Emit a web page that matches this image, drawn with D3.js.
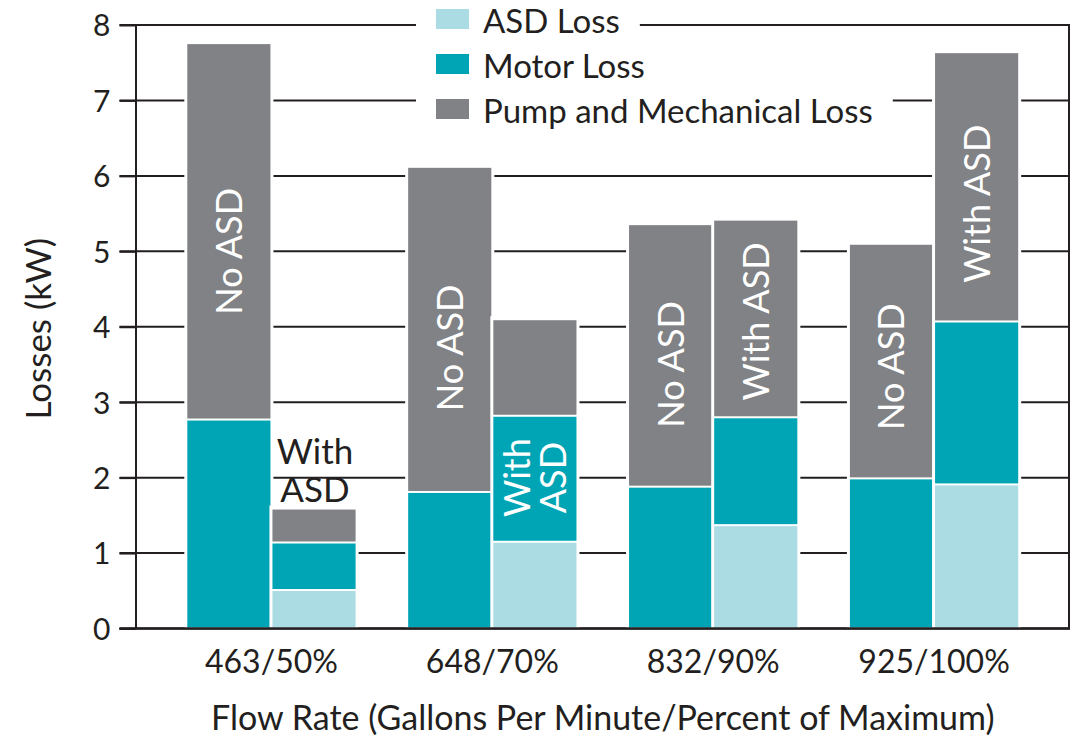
<!DOCTYPE html>
<html>
<head>
<meta charset="utf-8">
<script src="https://cdn.jsdelivr.net/npm/d3@7"></script>
<style>
  html, body { margin: 0; padding: 0; background: #fff; }
  svg { display: block; font-family: Lato, "DejaVu Sans", sans-serif; }
</style>
</head>
<body>
<div id="main-container"></div>
<script>
// Data
const GROUPS = ['463/50%', '648/70%', '832/90%', '925/100%'];
const CONFIGS = ['No ASD', 'With ASD'];
const SERIES = ['ASD Loss', 'Motor Loss', 'Pump and Mechanical Loss'];
const Y_TICKS = [0, 1, 2, 3, 4, 5, 6, 7, 8];

// segment sizes (kW), one entry per flow rate
const NO_ASD_ASD = [0, 0, 0, 0];
const NO_ASD_MOTOR = [2.77, 1.81, 1.88, 1.99];
const NO_ASD_PUMP = [4.99, 4.31, 3.48, 3.11];
const WITH_ASD_ASD = [0.51, 1.15, 1.37, 1.91];
const WITH_ASD_MOTOR = [0.63, 1.67, 1.43, 2.16];
const WITH_ASD_PUMP = [0.45, 1.28, 2.62, 3.57];

// where the bar labels sit (kW)
const NO_ASD_LABEL_AT = [5.0, 3.72, 3.5, 3.47];
const WITH_ASD_LABEL_AT = [1.95, 2.0, 4.07, 5.63];

const COLORS = ['#abdbe3', '#00a5b5', '#808285'];
const INK = '#231f20';

const WIDTH = 1071;
const HEIGHT = 737;
const MARGIN = { top: 25, right: 1, bottom: 108.5, left: 135.5 };

const SVG = d3.select('#main-container').append('svg')
    .attr('width', WIDTH)
    .attr('height', HEIGHT);

const x = d3.scaleBand()
    .domain(GROUPS)
    .range([MARGIN.left, WIDTH - MARGIN.right])
    .paddingInner(0.229)
    .paddingOuter(0.23);

const xInner = d3.scaleBand()
    .domain(CONFIGS)
    .range([0, x.bandwidth()]);

const y = d3.scaleLinear()
    .domain([0, 8])
    .range([HEIGHT - MARGIN.bottom, MARGIN.top]);

// build bars
const bars = [];
GROUPS.forEach((g, i) => {
    const sets = [
        [NO_ASD_ASD[i], NO_ASD_MOTOR[i], NO_ASD_PUMP[i]],
        [WITH_ASD_ASD[i], WITH_ASD_MOTOR[i], WITH_ASD_PUMP[i]]
    ];
    CONFIGS.forEach((c, j) => {
        let acc = 0;
        const segs = sets[j].map((v, k) => {
            const s = { series: SERIES[k], k, y0: acc, y1: acc + v };
            acc += v;
            return s;
        }).filter(s => s.y1 > s.y0);
        bars.push({ group: g, gi: i, config: c, ci: j, total: acc, segs });
    });
});

// gridlines
SVG.append('g')
    .selectAll('line')
    .data(Y_TICKS)
    .join('line')
    .attr('x1', MARGIN.left - 16)
    .attr('x2', WIDTH - MARGIN.right)
    .attr('y1', d => y(d))
    .attr('y2', d => y(d))
    .attr('stroke', INK)
    .attr('stroke-width', 2);

// right frame
SVG.append('line')
    .attr('x1', WIDTH - MARGIN.right - 1).attr('x2', WIDTH - MARGIN.right - 1)
    .attr('y1', y(8)).attr('y2', y(0))
    .attr('stroke', INK).attr('stroke-width', 2);

// bars
const BAR = SVG.append('g')
    .selectAll('g')
    .data(bars)
    .join('g')
    .attr('transform', d => `translate(${x(d.group) + xInner(d.config)}, 0)`);

// white halo behind bar
BAR.append('rect')
    .attr('x', -2)
    .attr('width', xInner.bandwidth() + 4)
    .attr('y', d => y(d.total) - 3)
    .attr('height', d => y(0) - y(d.total) + 3)
    .attr('fill', '#fff');

BAR.selectAll('rect.seg')
    .data(d => d.segs)
    .join('rect')
    .attr('class', 'seg')
    .attr('x', 1)
    .attr('width', xInner.bandwidth() - 2)
    .attr('y', s => y(s.y1) + 1)
    .attr('height', s => Math.max(0, y(s.y0) - y(s.y1) - 2))
    .attr('fill', s => COLORS[s.k]);

// bar labels
const cx = d => x(d.group) + xInner(d.config) + xInner.bandwidth() / 2;
const LABELS = SVG.append('g')
    .attr('font-size', 36)
    .attr('fill', '#fff');

bars.forEach(d => {
    const px = cx(d);
    if (d.ci === 0) {
        LABELS.append('text')
            .attr('transform', `translate(${px}, ${y(NO_ASD_LABEL_AT[d.gi])}) rotate(-90)`)
            .attr('text-anchor', 'middle')
            .attr('dy', '0.36em')
            .text('No ASD');
    } else if (d.gi === 0) {
        // two lines sitting on top of the short bar
        LABELS.append('text')
            .attr('x', px + 1).attr('y', y(d.total) - 45)
            .attr('text-anchor', 'middle')
            .attr('font-size', 35)
            .attr('fill', INK)
            .text('With');
        LABELS.append('text')
            .attr('x', px + 1).attr('y', y(d.total) - 7)
            .attr('text-anchor', 'middle')
            .attr('font-size', 35)
            .attr('fill', INK)
            .text('ASD');
    } else if (d.gi === 1) {
        const t = LABELS.append('text')
            .attr('transform', `translate(${px}, ${y(WITH_ASD_LABEL_AT[d.gi])}) rotate(-90)`)
            .attr('text-anchor', 'middle');
        t.append('tspan').attr('x', 0).attr('y', -5).text('With');
        t.append('tspan').attr('x', 0).attr('y', 31).text('ASD');
    } else {
        LABELS.append('text')
            .attr('transform', `translate(${px}, ${y(WITH_ASD_LABEL_AT[d.gi])}) rotate(-90)`)
            .attr('text-anchor', 'middle')
            .attr('dy', '0.36em')
            .text('With ASD');
    }
});

// y axis
const Y_AXIS = SVG.append('g')
    .attr('transform', `translate(${MARGIN.left}, 0)`)
    .call(d3.axisLeft(y).tickValues(Y_TICKS).tickFormat(d3.format('d')).tickSize(16).tickSizeOuter(0).tickPadding(9));
Y_AXIS.selectAll('path, line').attr('stroke', INK).attr('stroke-width', 2);
Y_AXIS.selectAll('text')
    .attr('font-family', 'Lato, sans-serif')
    .attr('font-size', 30)
    .attr('fill', INK)
    .attr('dy', '0.36em');

// x axis
const X_AXIS = SVG.append('g')
    .attr('transform', `translate(0, ${y(0)})`)
    .call(d3.axisBottom(x).tickSize(0).tickPadding(44));
X_AXIS.select('.domain').remove();
X_AXIS.append('line')
    .attr('x1', MARGIN.left - 16)
    .attr('x2', WIDTH - MARGIN.right)
    .attr('stroke', INK)
    .attr('stroke-width', 2.5);
X_AXIS.selectAll('text')
    .attr('font-family', 'Lato, sans-serif')
    .attr('font-size', 32)
    .attr('fill', INK)
    .attr('dy', 0);

// axis titles
SVG.append('text')
    .attr('x', (MARGIN.left + WIDTH - MARGIN.right) / 2)
    .attr('y', 730)
    .attr('text-anchor', 'middle')
    .attr('font-size', 34)
    .attr('fill', INK)
    .text('Flow Rate (Gallons Per Minute/Percent of Maximum)');

SVG.append('text')
    .attr('transform', `translate(51, ${(y(0) + y(8)) / 2 + 2}) rotate(-90)`)
    .attr('text-anchor', 'middle')
    .attr('font-size', 35)
    .attr('fill', INK)
    .text('Losses (kW)');

// legend
const LEGEND = SVG.append('g')
    .attr('transform', 'translate(436, 33)');

const LEGEND_ITEMS = LEGEND.selectAll('g')
    .data(SERIES)
    .join('g')
    .attr('transform', (d, i) => `translate(0, ${i * 45})`);

LEGEND_ITEMS.append('rect')
    .attr('x', -20)
    .attr('y', -31)
    .attr('height', 40)
    .attr('fill', '#fff');

LEGEND_ITEMS.append('rect')
    .attr('x', 0)
    .attr('y', -24)
    .attr('width', 33)
    .attr('height', 20)
    .attr('fill', (d, i) => COLORS[i]);

LEGEND_ITEMS.append('text')
    .attr('x', 47)
    .attr('y', 0)
    .attr('font-size', 33)
    .attr('fill', INK)
    .text(d => d);

LEGEND_ITEMS.each(function () {
    const g = d3.select(this);
    const w = g.select('text').node().getComputedTextLength();
    g.select('rect').attr('width', 47 + w + 40);
});
</script>
</body>
</html>
